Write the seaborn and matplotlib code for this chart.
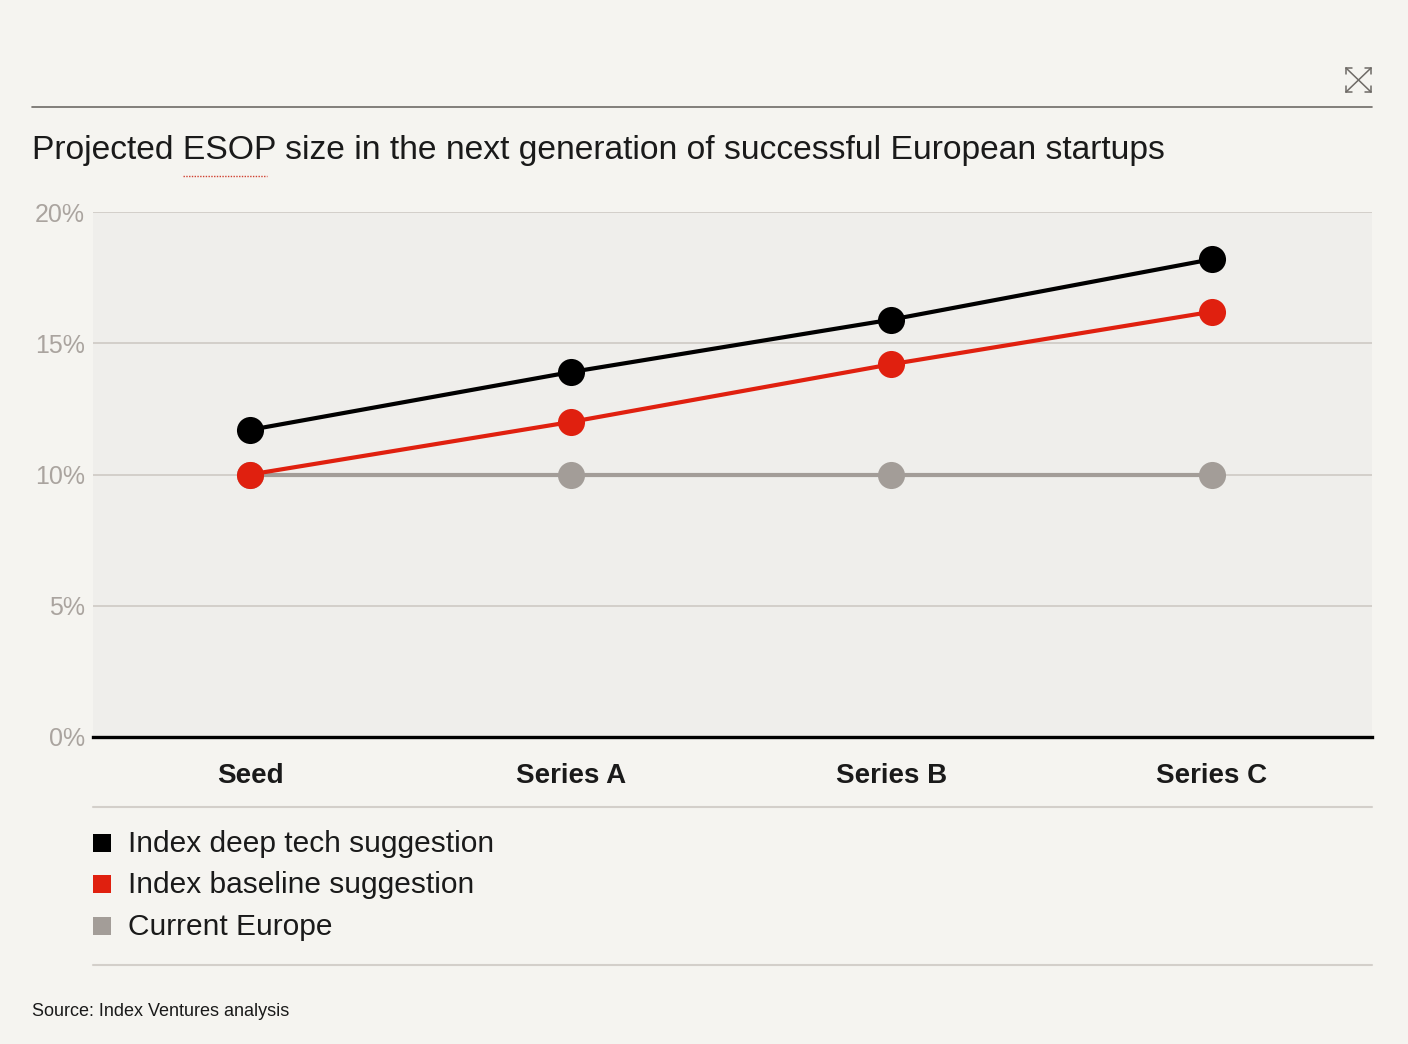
import matplotlib
matplotlib.use("Agg")
import matplotlib.pyplot as plt
import seaborn as sns
import pandas as pd
from matplotlib.lines import Line2D
from matplotlib.patches import Rectangle
from matplotlib import font_manager

stages = ["Seed", "Series A", "Series B", "Series C"]
deep_tech = [11.7, 13.9, 15.9, 18.2]
baseline = [10.0, 12.0, 14.2, 16.2]
current_europe = [10.0, 10.0, 10.0, 10.0]
series_names = ["Index deep tech suggestion", "Index baseline suggestion", "Current Europe"]
y_ticks = [0, 5, 10, 15, 20]
y_tick_labels = ["0%", "5%", "10%", "15%", "20%"]

colors = {"Index deep tech suggestion": "#000000",
          "Index baseline suggestion": "#e0200f",
          "Current Europe": "#a39d98"}

rows = []
for name, vals in zip(series_names, [deep_tech, baseline, current_europe]):
    for s, v in zip(stages, vals):
        rows.append({"stage": s, "value": v, "series": name})
df = pd.DataFrame(rows)

sns.set_theme(style="white")
avail = {f.name for f in font_manager.fontManager.ttflist}
narrow = "Liberation Sans Narrow" if "Liberation Sans Narrow" in avail else "Liberation Sans"
plt.rcParams["font.family"] = ["Liberation Sans", "DejaVu Sans"]

BG = "#f5f4f0"
fig = plt.figure(figsize=(14.08, 10.44), dpi=100, facecolor=BG)
W, H = 1408, 1044

def fx(x):
    return x / W

def fy(y):
    return 1 - y / H

ax = fig.add_axes([fx(93), fy(737), fx(1372) - fx(93), fy(212) - fy(737)])
ax.set_facecolor("#efeeeb")

for y in y_ticks[1:]:
    ax.axhline(y, color="#d3cfca", lw=1.4, zorder=0)

sns.lineplot(data=df, x="stage", y="value", hue="series",
             hue_order=["Current Europe", "Index baseline suggestion", "Index deep tech suggestion"],
             palette=colors, marker="o", markersize=19.5, markeredgewidth=0,
             linewidth=3.0, sort=False, legend=False, ax=ax, zorder=3)

ax.set_xlim(-0.49, 3.5)
ax.set_ylim(0, 20)
ax.set_xlabel("")
ax.set_ylabel("")
ax.set_yticks(y_ticks)
ax.set_yticklabels(y_tick_labels, fontsize=18, color="#aaa49f", family=[narrow, "DejaVu Sans"])
ax.set_xticks(range(len(stages)))
ax.set_xticklabels(stages, fontsize=20, fontweight="bold", color="#1a1a1a")
ax.tick_params(axis="y", length=0, pad=6)
ax.tick_params(axis="x", length=0, pad=19)
for side in ["top", "left", "right"]:
    ax.spines[side].set_visible(False)
ax.spines["bottom"].set_color("#000000")
ax.spines["bottom"].set_linewidth(2.4)
ax.spines["bottom"].set_zorder(5)

# Header rule
fig.add_artist(Line2D([fx(32), fx(1372)], [fy(107), fy(107)], color="#6e6a66", lw=1.2))
# Close icon
ic = "#6e6a66"
fig.add_artist(Line2D([fx(1346), fx(1371)], [fy(68), fy(92)], color=ic, lw=1.1))
fig.add_artist(Line2D([fx(1346), fx(1371)], [fy(92), fy(68)], color=ic, lw=1.1))
for (x0, y0, dx, dy) in [(1346, 68, 1, 1), (1371, 68, -1, 1), (1346, 92, 1, -1), (1371, 92, -1, -1)]:
    fig.add_artist(Line2D([fx(x0), fx(x0)], [fy(y0), fy(y0 + dy * 6)], color=ic, lw=1.1))
    fig.add_artist(Line2D([fx(x0), fx(x0 + dx * 6)], [fy(y0), fy(y0)], color=ic, lw=1.1))

# Title
fig.text(fx(32), fy(150), "Projected ESOP size in the next generation of successful European startups",
         fontsize=24.2, color="#1a1a1a", ha="left", va="center")
fig.add_artist(Line2D([fx(183), fx(267)], [fy(176), fy(176)], color="#d04030", lw=1.0, ls=(0, (1, 1))))

# Rules around legend
fig.add_artist(Line2D([fx(93), fx(1372)], [fy(807), fy(807)], color="#d3cfca", lw=1.5))
fig.add_artist(Line2D([fx(93), fx(1372)], [fy(965), fy(965)], color="#d3cfca", lw=1.5))

# Legend
legend_y = [843, 884, 926]
for name, y in zip(series_names, legend_y):
    fig.add_artist(Rectangle((fx(93), fy(y + 9)), fx(111) - fx(93), fy(y - 9) - fy(y + 9),
                             facecolor=colors[name], edgecolor="none"))
    fig.text(fx(128), fy(y + 1), name, fontsize=21.5, color="#1a1a1a", ha="left", va="center",
             family=[narrow, "DejaVu Sans"])

fig.text(fx(32), fy(1011), "Source: Index Ventures analysis", fontsize=13, color="#1a1a1a",
         ha="left", va="center", family=[narrow, "DejaVu Sans"])

fig.savefig("out.png", dpi=100, facecolor=BG)
